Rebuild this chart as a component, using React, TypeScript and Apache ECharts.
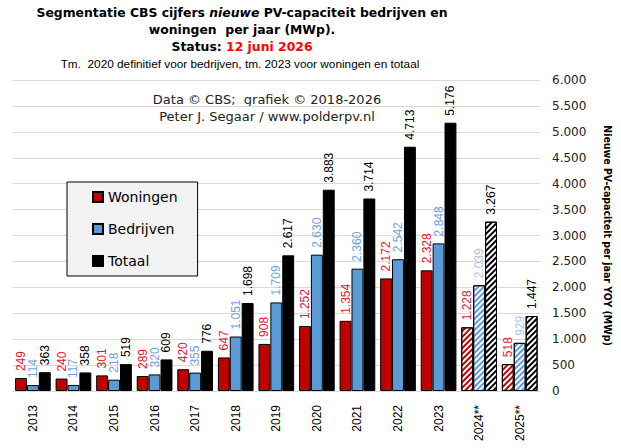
import { useEffect, useRef } from "react";
import * as echarts from "echarts";

const years = ["2013", "2014", "2015", "2016", "2017", "2018", "2019", "2020", "2021", "2022", "2023", "2024**", "2025**"];
const woningen = [249, 240, 301, 289, 420, 647, 908, 1252, 1354, 2172, 2328, 1228, 518];
const bedrijven = [114, 117, 218, 320, 355, 1051, 1709, 2630, 2360, 2542, 2848, 2039, 929];
const totaal = [363, 358, 519, 609, 776, 1698, 2617, 3883, 3714, 4713, 5176, 3267, 1447];
// the last two years are still provisional: hatched bars
const provisional = ["2024**", "2025**"];

const fmt = (v: number) => String(v).replace(/\B(?=(\d{3})+(?!\d))/g, ".");

function hatch(color: string) {
  return {
    symbol: "rect",
    symbolSize: 1,
    color,
    dashArrayX: [1, 0],
    dashArrayY: [2, 2],
    rotation: -Math.PI / 4,
  };
}

function makeSeries(name: string, values: number[], fill: string, labelColor: string, hatchLabel: string) {
  return {
    name,
    type: "bar",
    barGap: "0%",
    barCategoryGap: "12%",
    itemStyle: { color: fill, borderColor: "#000", borderWidth: 1 },
    label: {
      show: true,
      position: "top",
      rotate: 90,
      align: "left",
      verticalAlign: "middle",
      distance: 7,
      color: labelColor,
      fontFamily: "Liberation Sans",
      fontSize: 12,
      formatter: (p: any) => fmt(p.value),
    },
    data: values.map((v, i) =>
      provisional.includes(years[i])
        ? {
            value: v,
            itemStyle: { color: "#fff", borderColor: "#000", borderWidth: 1, decal: hatch(fill) },
            label: { color: hatchLabel },
          }
        : v
    ),
  };
}

export default function App() {
  const ref = useRef<HTMLDivElement | null>(null);

  useEffect(() => {
    if (!ref.current) return;
    const chart = echarts.init(ref.current, undefined, { renderer: "svg" });
    const b = { fontFamily: "DejaVu Sans", fontWeight: "bold", fontSize: 12.4, color: "#000", lineHeight: 17 };
    chart.setOption({
      animation: false,
      backgroundColor: "#fff",
      title: [
        {
          left: 237,
          top: -1,
          textAlign: "center",
          text:
            "{b|Segmentatie CBS cijfers }{i|nieuwe}{b| PV-capaciteit bedrijven en}\n{b|woningen  per jaar (MWp).}\n{b|Status: }{r|12 juni 2026}",
          textStyle: {
            rich: {
              b,
              i: { ...b, fontStyle: "italic" },
              r: { ...b, color: "#ff0000" },
            },
          },
        },
        {
          left: 235,
          top: 53,
          textAlign: "center",
          text: "Tm.  2020 definitief voor bedrijven, tm. 2023 voor woningen en totaal",
          textStyle: { fontFamily: "Liberation Sans", fontWeight: "normal", fontSize: 11.8, color: "#000" },
        },
      ],
      graphic: [
        {
          type: "text",
          x: 267,
          y: 107.5,
          style: {
            text: "Data © CBS;  grafiek © 2018-2026\nPeter J. Segaar / www.polderpv.nl",
            font: "13px 'DejaVu Sans'",
            fill: "#222",
            align: "center",
            verticalAlign: "middle",
            lineHeight: 17,
          },
        },
      ],
      legend: {
        orient: "vertical",
        left: 67,
        top: 182,
        backgroundColor: "#f2f2f2",
        borderColor: "#000",
        borderWidth: 1,
        borderRadius: 0,
        padding: [8, 20, 8, 25],
        itemGap: 18,
        itemWidth: 10,
        itemHeight: 10,
        icon: "rect",
        textStyle: { fontFamily: "DejaVu Sans", fontSize: 14, color: "#000" },
        data: ["Woningen", "Bedrijven", "Totaal"],
      },
      grid: { left: 12.6, right: 78, top: 80, bottom: 57 },
      xAxis: {
        type: "category",
        data: years,
        axisLine: { lineStyle: { color: "#d9d9d9" } },
        axisTick: { show: false },
        axisLabel: {
          rotate: 90,
          margin: 14,
          interval: 0,
          color: "#000",
          fontFamily: "Liberation Sans",
          fontSize: 12,
        },
      },
      yAxis: {
        type: "value",
        position: "right",
        min: 0,
        max: 6000,
        interval: 500,
        name: "Nieuwe PV-capaciteit per jaar YOY (MWp)",
        nameLocation: "middle",
        nameRotate: -90,
        nameGap: 62,
        nameTextStyle: { fontFamily: "DejaVu Sans Condensed", fontWeight: "bold", fontSize: 10.5, color: "#000" },
        axisLine: { show: false },
        axisTick: { show: false },
        axisLabel: {
          margin: 12,
          color: "#222",
          fontFamily: "DejaVu Sans",
          fontSize: 12,
          formatter: (v: number) => fmt(v),
        },
        splitLine: { lineStyle: { color: "#d9d9d9" } },
      },
      series: [
        makeSeries("Woningen", woningen, "#c00000", "#e3182d", "#d6283a"),
        makeSeries("Bedrijven", bedrijven, "#5b9bd5", "#6fa3dc", "#a9c7e8"),
        makeSeries("Totaal", totaal, "#000000", "#000", "#000"),
      ],
    });
    return () => chart.dispose();
  }, []);

  return <div ref={ref} style={{ width: 621, height: 448, position: "fixed", left: 0, top: 0 }} />;
}
